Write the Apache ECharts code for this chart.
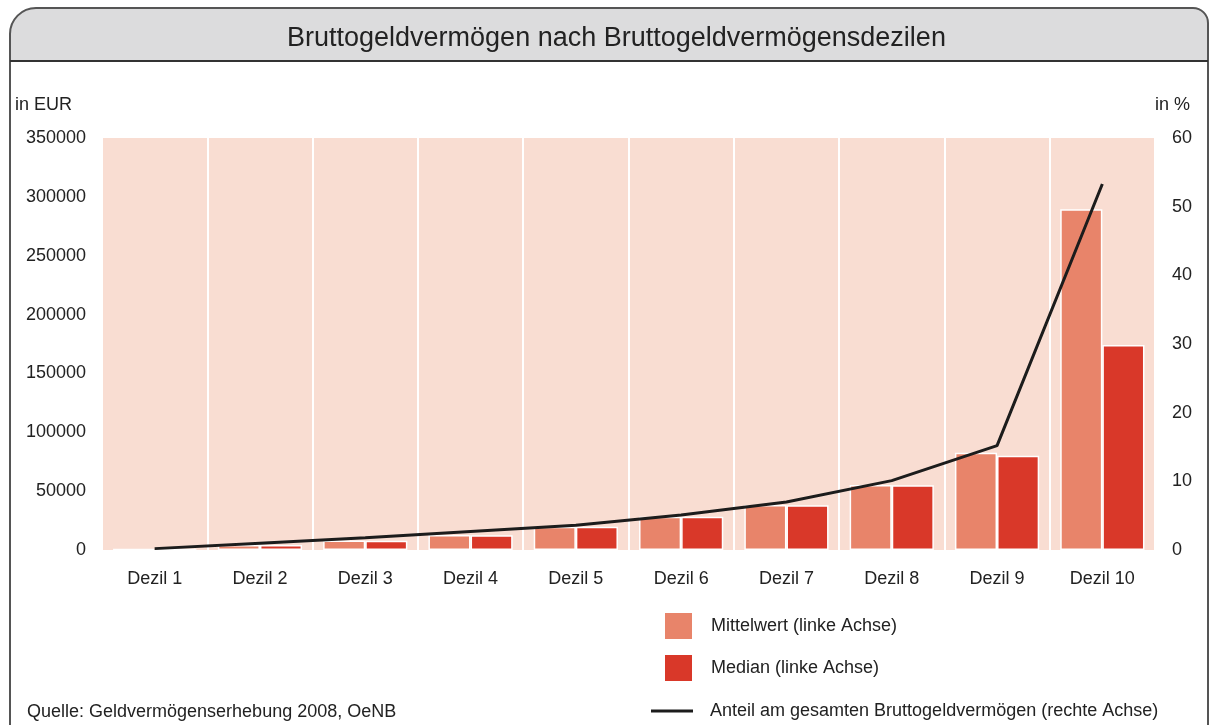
<!DOCTYPE html>
<html>
<head>
<meta charset="utf-8">
<title>Bruttogeldvermögen nach Bruttogeldvermögensdezilen</title>
<script src="https://cdn.jsdelivr.net/npm/echarts@6/dist/echarts.min.js"></script>
<style>
    html, body { margin: 0; padding: 0; background: #fff; }
    #chart { width: 1210px; height: 725px; }
</style>
</head>
<body>
<div id="chart"></div>
<script>
// Daten
var dezile = ['Dezil 1', 'Dezil 2', 'Dezil 3', 'Dezil 4', 'Dezil 5', 'Dezil 6', 'Dezil 7', 'Dezil 8', 'Dezil 9', 'Dezil 10'];
var mittelwert = [900, 4300, 8000, 12800, 19800, 28300, 38200, 55200, 82700, 289400];
var median = [700, 4200, 7900, 12600, 19700, 28200, 38100, 55100, 80100, 174100];
var anteil = [0.2, 1.0, 1.8, 2.7, 3.6, 5.1, 7.0, 10.1, 15.2, 53.3];

var fontFam = '"Liberation Sans", Arial, Helvetica, sans-serif';
var textCol = '#222222';

var myChart = echarts.init(document.getElementById('chart'));
var option = {
    backgroundColor: '#ffffff',
    textStyle: { fontFamily: fontFam, color: textCol },
    graphic: [
        // Rahmen + Kopfzeile
        {
            type: 'rect', z: -10,
            shape: { x: 10, y: 8, width: 1198, height: 53, r: [26, 15, 0, 0] },
            style: { fill: '#dcdcdd', stroke: null }
        },
        {
            type: 'rect', z: -9,
            shape: { x: 10, y: 8, width: 1198, height: 900, r: [26, 15, 0, 0] },
            style: { fill: null, stroke: '#555555', lineWidth: 2 }
        },
        {
            type: 'line', z: -9,
            shape: { x1: 10, y1: 61, x2: 1208, y2: 61 },
            style: { stroke: '#333333', lineWidth: 2 }
        },
        {
            type: 'text', left: 27, top: 703,
            style: { text: 'Quelle: Geldvermögenserhebung 2008, OeNB', fill: textCol, font: '18px ' + fontFam }
        }
    ],
    title: {
        text: 'Bruttogeldvermögen nach Bruttogeldvermögensdezilen',
        left: 282,
        top: 20,
        textStyle: { fontSize: 27, fontWeight: 'normal', color: textCol, fontFamily: fontFam }
    },
    legend: [
        {
            data: ['Mittelwert (linke Achse)', 'Median (linke Achse)'],
            orient: 'vertical',
            left: 658,
            top: 606,
            itemWidth: 29,
            itemHeight: 28,
            itemGap: 12,
            icon: 'rect',
            selectedMode: false,
            textStyle: { fontSize: 18, color: textCol, fontFamily: fontFam, padding: [0, 0, 0, 13] }
        },
        {
            data: ['Anteil am gesamten Bruttogeldvermögen (rechte Achse)'],
            orient: 'vertical',
            left: 646,
            top: 697,
            itemWidth: 42,
            itemHeight: 3,
            icon: 'rect',
            selectedMode: false,
            textStyle: { fontSize: 18, color: textCol, fontFamily: fontFam, padding: [0, 0, 0, 12] }
        }
    ],
    grid: {
        left: 102,
        right: 55,
        top: 138,
        bottom: 175,
        show: true,
        backgroundColor: '#f9ddd2',
        borderWidth: 0
    },
    xAxis: {
        type: 'category',
        data: dezile,
        axisLine: { show: false },
        axisTick: { show: false },
        axisLabel: { fontSize: 18, color: textCol, margin: 20 },
        splitLine: { show: true, lineStyle: { color: '#ffffff', width: 2 } }
    },
    yAxis: [
        {
            type: 'value',
            min: 0, max: 350000, interval: 50000,
            name: 'in EUR',
            nameGap: 24,
            nameTextStyle: { fontSize: 18, color: textCol, align: 'right', padding: [0, 30, 0, 0] },
            axisLine: { show: false },
            axisTick: { show: false },
            splitLine: { show: false },
            axisLabel: { fontSize: 18, color: textCol, margin: 16, formatter: function (v) { return String(v); } }
        },
        {
            type: 'value',
            min: 0, max: 60, interval: 10,
            name: 'in %',
            nameGap: 24,
            nameTextStyle: { fontSize: 18, color: textCol, align: 'left' },
            axisLine: { show: false },
            axisTick: { show: false },
            splitLine: { show: false },
            axisLabel: { fontSize: 18, color: textCol, margin: 17 }
        }
    ],
    series: [
        {
            name: 'Mittelwert (linke Achse)',
            type: 'bar',
            data: mittelwert,
            barGap: '0%',
            barCategoryGap: '20%',
            itemStyle: { color: '#e8846a', borderColor: '#ffffff', borderWidth: 1.5 }
        },
        {
            name: 'Median (linke Achse)',
            type: 'bar',
            data: median,
            itemStyle: { color: '#d93829', borderColor: '#ffffff', borderWidth: 1.5 }
        },
        {
            name: 'Anteil am gesamten Bruttogeldvermögen (rechte Achse)',
            type: 'line',
            yAxisIndex: 1,
            data: anteil,
            symbol: 'none',
            lineStyle: { color: '#1c1c1c', width: 3 },
            itemStyle: { color: '#1c1c1c' },
            z: 5
        }
    ],
    animation: false
};
myChart.setOption(option);
</script>
</body>
</html>
